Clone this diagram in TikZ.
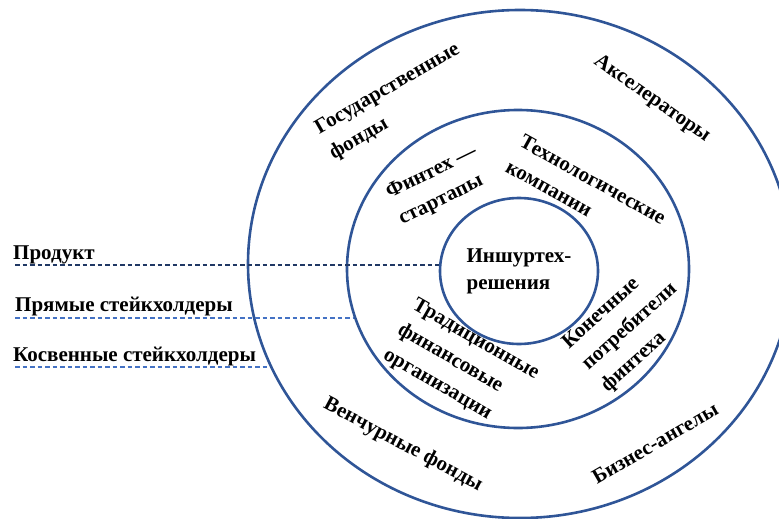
\documentclass[tikz,border=0pt]{standalone}
\usepackage{fontspec}
\setmainfont{Liberation Serif}
\usetikzlibrary{shapes.geometric}
\definecolor{ringblue}{HTML}{2F5597}
\definecolor{navydash}{HTML}{203864}
\definecolor{lightdash}{HTML}{4472C4}
\tikzset{
  ring/.style={draw=ringblue,line width=2.6pt,ellipse,inner sep=0pt},
  lbl/.style={font=\fontsize{21}{29}\selectfont\bfseries,align=left,inner sep=0pt},
  prodline/.style={draw=navydash,line width=1.1pt,dash pattern=on 4.5pt off 3pt},
  stakeline/.style={draw=lightdash,line width=1.1pt,dash pattern=on 4.5pt off 3pt}
}
\begin{document}
\begin{tikzpicture}[x=1pt,y=-1pt]
  \useasboundingbox (0,0) rectangle (779,519);
  % rings
  \node[ring,minimum width=544pt,minimum height=508pt] (outer) at (520,264) {};
  \node[ring,minimum width=342pt,minimum height=318pt] (mid) at (518,269) {};
  \node[ring,minimum width=158pt,minimum height=146pt] (inner) at (519,271) {};
  \node[lbl,font=\fontsize{21}{27}\selectfont\bfseries] (core) at (inner) {Иншуртех-\\решения};
  % left side
  \node[lbl,anchor=base west] (prod) at (13,259) {Продукт};
  \node[lbl,anchor=base west] (direct) at (15,311) {Прямые стейкхолдеры};
  \node[lbl,anchor=base west] (indirect) at (13,361) {Косвенные стейкхолдеры};
  \coordinate (p1) at (15,265);
  \coordinate (p2) at (15,318);
  \coordinate (p3) at (15,367);
  \draw[prodline] (p1) -- (p1 -| inner.west);
  \draw[stakeline] (p2) -- (p2 -| mid.196.7);
  \draw[stakeline] (p3) -- (p3 -| outer.202.5);
  % ring labels
  \node[lbl,rotate=30] (gov) at (395,102) {Государственные\\фонды};
  \node[lbl,rotate=-35] (accel) at (652,99) {Акселераторы};
  \node[lbl,rotate=26] (fin) at (438,186) {Финтех —\\стартапы};
  \node[lbl,rotate=-29] (tech) at (586,192) {Технологические\\компании};
  \node[lbl,rotate=-30] (trad) at (461,365) {Традиционные\\финансовые\\организации};
  \node[lbl,rotate=42] (cons) at (630,327) {Конечные\\потребители\\финтеха};
  \node[lbl,rotate=-28] (venture) at (403,445) {Венчурные фонды};
  \node[lbl,rotate=30] (angels) at (655,443) {Бизнес-ангелы};
\end{tikzpicture}
\end{document}
